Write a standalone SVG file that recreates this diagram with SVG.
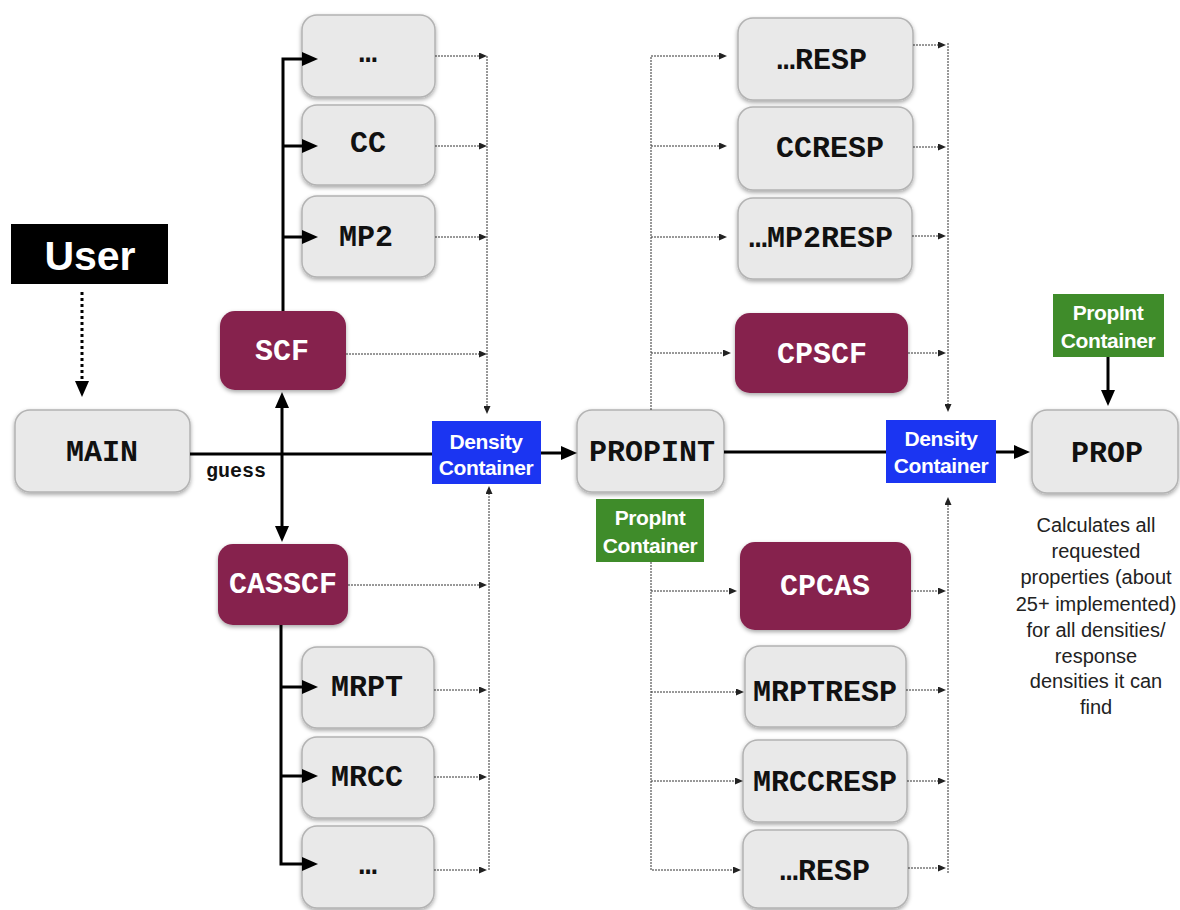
<svg xmlns="http://www.w3.org/2000/svg" width="1180" height="910" viewBox="0 0 1180 910">
<style>
.box{fill:#e9e9e9;stroke:#b3b3b3;stroke-width:1.5}
.pur{fill:#86214d}
.blue{fill:#1b35f2}
.green{fill:#3f8c2a}
.lbl{font-family:"Liberation Mono","Courier New",monospace;font-weight:bold;font-size:30px;text-anchor:middle;fill:#111}
.wl{fill:#fff}
.ct{font-family:"Liberation Sans",Arial,sans-serif;font-weight:bold;font-size:21px;text-anchor:middle;fill:#fff;letter-spacing:-0.4px}
.desc{font-family:"Liberation Sans",Arial,sans-serif;font-size:20px;text-anchor:middle;fill:#222}
.thick{stroke:#000;stroke-width:3;fill:none}
.thin{stroke:#333;stroke-width:1;fill:none;stroke-dasharray:2 1}
</style>
<defs>
<filter id="sh" x="-20%" y="-20%" width="140%" height="150%">
<feDropShadow dx="0" dy="2" stdDeviation="2" flood-color="#000" flood-opacity="0.35"/>
</filter>
<marker id="ah" markerUnits="userSpaceOnUse" markerWidth="16" markerHeight="14" refX="2" refY="7" orient="auto-start-reverse">
<path d="M0,0 L16,7 L0,14 z" fill="#000"/>
</marker>
<marker id="as" markerUnits="userSpaceOnUse" markerWidth="8" markerHeight="7" refX="1" refY="3.5" orient="auto">
<path d="M0,0 L8,3.5 L0,7 z" fill="#222"/>
</marker>
</defs>
<rect width="1180" height="910" fill="#fff"/>

<g id="user"><rect x="11" y="224" width="157" height="60" fill="#000"/><text x="90" y="270" font-family="Liberation Sans,Arial,sans-serif" font-weight="bold" font-size="41" text-anchor="middle" fill="#fff">User</text></g>
<g id="main"><rect class="box" x="15" y="410" width="175" height="82" rx="15" filter="url(#sh)"/><text class="lbl" x="102" y="461">MAIN</text></g>
<text id="guess" x="206" y="477" font-family="Liberation Mono,Courier New,monospace" font-weight="bold" font-size="20" fill="#111">guess</text>

<g id="dots1"><rect class="box" x="302" y="15" width="133" height="82" rx="15" filter="url(#sh)"/><text class="lbl" x="368" y="62">…</text></g>
<g id="cc"><rect class="box" x="302" y="105" width="133" height="80" rx="15" filter="url(#sh)"/><text class="lbl" x="368" y="152">CC</text></g>
<g id="mp2"><rect class="box" x="302" y="196" width="133" height="81" rx="15" filter="url(#sh)"/><text class="lbl" x="366" y="246">MP2</text></g>
<g id="scf"><rect class="pur" x="220" y="311" width="126" height="79" rx="15" filter="url(#sh)"/><text class="lbl wl" x="282" y="360">SCF</text></g>
<g id="casscf"><rect class="pur" x="218" y="544" width="130" height="81" rx="15" filter="url(#sh)"/><text class="lbl wl" x="283" y="593">CASSCF</text></g>
<g id="mrpt"><rect class="box" x="302" y="647" width="132" height="81" rx="15" filter="url(#sh)"/><text class="lbl" x="367" y="696">MRPT</text></g>
<g id="mrcc"><rect class="box" x="302" y="737" width="132" height="81" rx="15" filter="url(#sh)"/><text class="lbl" x="367" y="786">MRCC</text></g>
<g id="dots2"><rect class="box" x="302" y="826" width="132" height="82" rx="15" filter="url(#sh)"/><text class="lbl" x="368" y="874">…</text></g>

<g id="density1"><rect class="blue" x="432" y="421" width="109" height="63"/><text class="ct" x="486" y="449">Density</text><text class="ct" x="486" y="475">Container</text></g>
<g id="propint"><rect class="box" x="577" y="410" width="147" height="82" rx="15" filter="url(#sh)"/><text class="lbl" x="652" y="461">PROPINT</text></g>
<g id="propintc1"><rect class="green" x="596" y="499" width="108" height="63"/><text class="ct" x="650" y="525">PropInt</text><text class="ct" x="650" y="553">Container</text></g>

<g id="resp1"><rect class="box" x="738" y="18" width="175" height="82" rx="15" filter="url(#sh)"/><text class="lbl" x="822" y="69">…RESP</text></g>
<g id="ccresp"><rect class="box" x="738" y="107" width="175" height="83" rx="15" filter="url(#sh)"/><text class="lbl" x="830" y="157">CCRESP</text></g>
<g id="mp2resp"><rect class="box" x="738" y="198" width="174" height="81" rx="15" filter="url(#sh)"/><text class="lbl" x="821" y="247">…MP2RESP</text></g>
<g id="cpscf"><rect class="pur" x="735" y="313" width="173" height="80" rx="15" filter="url(#sh)"/><text class="lbl wl" x="822" y="363">CPSCF</text></g>
<g id="density2"><rect class="blue" x="886" y="420" width="110" height="63"/><text class="ct" x="941" y="446">Density</text><text class="ct" x="941" y="473">Container</text></g>
<g id="cpcas"><rect class="pur" x="740" y="542" width="171" height="88" rx="15" filter="url(#sh)"/><text class="lbl wl" x="825" y="595">CPCAS</text></g>
<g id="mrptresp"><rect class="box" x="745" y="646" width="161" height="81" rx="15" filter="url(#sh)"/><text class="lbl" x="825" y="701">MRPTRESP</text></g>
<g id="mrccresp"><rect class="box" x="743" y="740" width="164" height="82" rx="15" filter="url(#sh)"/><text class="lbl" x="825" y="791">MRCCRESP</text></g>
<g id="resp2"><rect class="box" x="743" y="830" width="165" height="78" rx="15" filter="url(#sh)"/><text class="lbl" x="825" y="880">…RESP</text></g>

<g id="propintc2"><rect class="green" x="1053" y="294" width="111" height="63"/><text class="ct" x="1108" y="320">PropInt</text><text class="ct" x="1108" y="348">Container</text></g>
<g id="prop"><rect class="box" x="1032" y="410" width="146" height="83" rx="15" filter="url(#sh)"/><text class="lbl" x="1107" y="462">PROP</text></g>
<g id="desc">
<text class="desc" x="1096" y="532">Calculates all</text>
<text class="desc" x="1096" y="558">requested</text>
<text class="desc" x="1096" y="584">properties (about</text>
<text class="desc" x="1096" y="611">25+ implemented)</text>
<text class="desc" x="1096" y="637">for all densities/</text>
<text class="desc" x="1096" y="663">response</text>
<text class="desc" x="1096" y="688">densities it can</text>
<text class="desc" x="1096" y="714">find</text>
</g>

<g id="connectors">
<line class="thick" x1="82" y1="292" x2="82" y2="383" stroke-dasharray="3 3" marker-end="url(#ah)"/>
<path class="thick" d="M283,311 V59 H304" marker-end="url(#ah)"/>
<path class="thick" d="M283,146 H304" marker-end="url(#ah)"/>
<path class="thick" d="M283,237 H304" marker-end="url(#ah)"/>
<line class="thick" x1="282" y1="406" x2="282" y2="528" marker-start="url(#ah)" marker-end="url(#ah)"/>
<path class="thick" d="M281,625 V864 H304" marker-end="url(#ah)"/>
<path class="thick" d="M281,687 H304" marker-end="url(#ah)"/>
<path class="thick" d="M281,776 H304" marker-end="url(#ah)"/>
<path class="thick" d="M190,454 H432"/>
<path class="thick" d="M541,453 H563" marker-end="url(#ah)"/>
<path class="thick" d="M724,452 H886"/>
<path class="thick" d="M996,452 H1016" marker-end="url(#ah)"/>
<path class="thick" d="M1108,357 V392" marker-end="url(#ah)"/>

<path class="thin" d="M435,56 H480" marker-end="url(#as)"/>
<path class="thin" d="M435,146 H480" marker-end="url(#as)"/>
<path class="thin" d="M435,237 H480" marker-end="url(#as)"/>
<path class="thin" d="M346,354 H480" marker-end="url(#as)"/>
<path class="thin" d="M348,585 H480" marker-end="url(#as)"/>
<path class="thin" d="M434,690 H480" marker-end="url(#as)"/>
<path class="thin" d="M434,777 H480" marker-end="url(#as)"/>
<path class="thin" d="M434,870 H480" marker-end="url(#as)"/>
<path class="thin" d="M487,56 V407" marker-end="url(#as)"/>
<path class="thin" d="M489,870 V493" marker-end="url(#as)"/>

<path class="thin" d="M651,410 V56 H720" marker-end="url(#as)"/>
<path class="thin" d="M651,146 H720" marker-end="url(#as)"/>
<path class="thin" d="M651,237 H720" marker-end="url(#as)"/>
<path class="thin" d="M651,353 H724" marker-end="url(#as)"/>
<path class="thin" d="M651,562 V870 H734" marker-end="url(#as)"/>
<path class="thin" d="M651,591 H730" marker-end="url(#as)"/>
<path class="thin" d="M651,692 H737" marker-end="url(#as)"/>
<path class="thin" d="M651,781 H736" marker-end="url(#as)"/>
<path class="thin" d="M913,45 H939" marker-end="url(#as)"/>
<path class="thin" d="M913,147 H939" marker-end="url(#as)"/>
<path class="thin" d="M912,236 H939" marker-end="url(#as)"/>
<path class="thin" d="M908,353 H939" marker-end="url(#as)"/>
<path class="thin" d="M911,591 H939" marker-end="url(#as)"/>
<path class="thin" d="M906,690 H939" marker-end="url(#as)"/>
<path class="thin" d="M907,781 H939" marker-end="url(#as)"/>
<path class="thin" d="M908,868 H939" marker-end="url(#as)"/>
<path class="thin" d="M948,43 V405" marker-end="url(#as)"/>
<path class="thin" d="M948,873 V504" marker-end="url(#as)"/>
</g>
</svg>
